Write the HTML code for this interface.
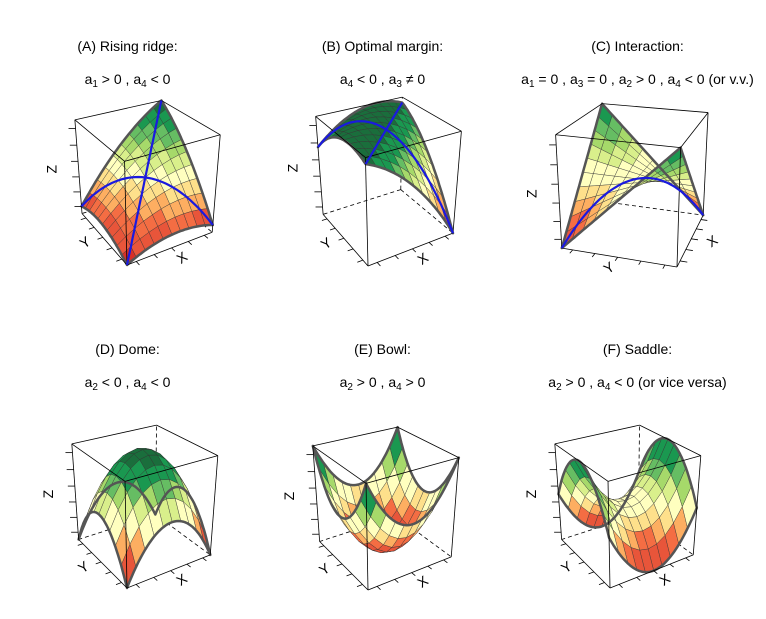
<!DOCTYPE html>
<html><head><meta charset="utf-8"><style>
html,body{margin:0;padding:0;background:#fff;width:766px;height:619px;overflow:hidden;font-family:"Liberation Sans",sans-serif;}
.t{position:absolute;width:255px;text-align:center;font-size:14px;color:#000;white-space:nowrap;}
sub{font-size:10px;vertical-align:-3px;line-height:0;}
svg{position:absolute;left:0;top:0;}
</style></head><body>
<div class="t" style="left:0;top:38px">(A) Rising ridge:</div>
<div class="t" style="left:0;top:71px">a<sub>1</sub> &gt; 0 , a<sub>4</sub> &lt; 0</div>
<div class="t" style="left:255px;top:38px">(B) Optimal margin:</div>
<div class="t" style="left:255px;top:71px">a<sub>4</sub> &lt; 0 , a<sub>3</sub> ≠ 0</div>
<div class="t" style="left:510px;top:38px">(C) Interaction:</div>
<div class="t" style="left:510px;top:71px">a<sub>1</sub> = 0 , a<sub>3</sub> = 0 , a<sub>2</sub> &gt; 0 , a<sub>4</sub> &lt; 0 (or v.v.)</div>
<div class="t" style="left:0;top:341px">(D) Dome:</div>
<div class="t" style="left:0;top:374px">a<sub>2</sub> &lt; 0 , a<sub>4</sub> &lt; 0</div>
<div class="t" style="left:255px;top:341px">(E) Bowl:</div>
<div class="t" style="left:255px;top:374px">a<sub>2</sub> &gt; 0 , a<sub>4</sub> &gt; 0</div>
<div class="t" style="left:510px;top:341px">(F) Saddle:</div>
<div class="t" style="left:510px;top:374px">a<sub>2</sub> &gt; 0 , a<sub>4</sub> &lt; 0 (or vice versa)</div>
<svg id="chart" width="766" height="619"></svg>
<script>
// Surface coefficients (z = a1*u + a2*u^2 + a3*v + a4*v^2 + a5*u*v, u=(x+y)/2, v=(x-y)/2)
const panels=['A','B','C','D','E','F'];
const a1=[1.2,0,0,0,0,0];
const a2=[0,0,1,-1,1,0];
const a3=[0,-0.6,0,0,0,0];
const a4=[-1,-1,-1,-1,1,0];
const a5=[0,0,0,0,0,4];
const showLOC=[1,1,0,0,0,0];
const showLOIC=[1,1,1,0,0,0];
const palette=['#d73027','#e8553a','#f46d43','#fdae61','#fee08b','#ffffbf','#d9ef8b','#a6d96a','#66bd63','#1a9850','#1a6e3c'];
const views=[
 {fx:127,fy:265,az:31,el:30,S:50,h:1.1},
 {fx:368,fy:266,az:31,el:30,S:50,h:1.15},
 {fx:677,fy:267,az:72,el:22,S:58,h:1.0},
 {fx:127,fy:588,az:33,el:28,S:50,h:1.1},
 {fx:368,fy:590,az:33,el:28,S:50,h:1.1},
 {fx:610,fy:588,az:33,el:28,S:50,h:1.1}
];
const N=10, D=10;
const svg=document.getElementById('chart');
const NS='http://www.w3.org/2000/svg';
function mk(tag,attrs){const e=document.createElementNS(NS,tag);for(const k in attrs)e.setAttribute(k,attrs[k]);return e;}
panels.forEach((p,i)=>{
  const V=views[i];
  const g=mk('g',{});
  
  
  svg.appendChild(g);
  const az=V.az*Math.PI/180, el=V.el*Math.PI/180;
  function raw(x,y,z){const c=Math.cos(az),s=Math.sin(az);const hh=x*c-y*s,dep=x*s+y*c;
    const up=z*Math.cos(el)+dep*Math.sin(el);const d2=dep*Math.cos(el)-z*Math.sin(el);const f=D/(D+d2);
    return [hh*f*V.S,-up*f*V.S,d2];}
  const o=raw(-1,-1,-V.h);
  function P(x,y,z){const r=raw(x,y,z);return [V.fx+r[0]-o[0],V.fy+r[1]-o[1],r[2]];}
  function fz(x,y){const u=(x+y)/2,v=(x-y)/2;return a1[i]*u+a2[i]*u*u+a3[i]*v+a4[i]*v*v+a5[i]*u*v;}
  let mn=1e9,mx=-1e9;
  for(let a=0;a<=40;a++)for(let b=0;b<=40;b++){const z=fz(-1+a/20,-1+b/20);mn=Math.min(mn,z);mx=Math.max(mx,z);}
  const nz=z=>(z-mn)/(mx-mn||1);
  const Z=(x,y)=>-V.h+2*V.h*nz(fz(x,y));
  const bb=[1,1,-V.h];
  [[1,-1,-V.h],[-1,1,-V.h],[1,1,V.h]].forEach(q=>{
    const A=P(...bb),B=P(...q);
    const l=mk('line',{x1:A[0],y1:A[1],x2:B[0],y2:B[1],stroke:'#000','stroke-width':0.8,'stroke-dasharray':'4,3'});
    
    
    g.appendChild(l);
  });
  const facets=[];
  for(let a=0;a<N;a++)for(let b=0;b<N;b++){
    const x0=-1+2*a/N,x1=-1+2*(a+1)/N,y0=-1+2*b/N,y1=-1+2*(b+1)/N;
    const pts=[[x0,y0],[x1,y0],[x1,y1],[x0,y1]].map(q=>P(q[0],q[1],Z(q[0],q[1])));
    const m=(nz(fz(x0,y0))+nz(fz(x1,y0))+nz(fz(x1,y1))+nz(fz(x0,y1)))/4;
    const dep=(pts[0][2]+pts[1][2]+pts[2][2]+pts[3][2])/4;
    facets.push({pts,m,dep});
  }
  facets.sort((A,B)=>B.dep-A.dep);
  facets.forEach(f=>{
    const ci=Math.min(palette.length-1,Math.floor(f.m*palette.length));
    const pg=mk('polygon',{points:f.pts.map(q=>q[0].toFixed(1)+','+q[1].toFixed(1)).join(' '),fill:palette[ci],stroke:'#333','stroke-width':0.5,'stroke-opacity':0.8});
    
    
    g.appendChild(pg);
  });
  const ol=[];
  for(let k=0;k<=40;k++)ol.push(P(-1+k/20,-1,Z(-1+k/20,-1)));
  for(let k=0;k<=40;k++)ol.push(P(1,-1+k/20,Z(1,-1+k/20)));
  for(let k=0;k<=40;k++)ol.push(P(1-k/20,1,Z(1-k/20,1)));
  for(let k=0;k<=40;k++)ol.push(P(-1,1-k/20,Z(-1,1-k/20)));
  const op=mk('polygon',{points:ol.map(q=>q[0].toFixed(1)+','+q[1].toFixed(1)).join(' '),fill:'none',stroke:'#555','stroke-width':2.5,'stroke-linejoin':'round'});
  
  
  g.appendChild(op);
  const hv=V.h;
  const edges=[
   [[-1,-1,-hv],[1,-1,-hv]],[[-1,-1,-hv],[-1,1,-hv]],[[-1,-1,-hv],[-1,-1,hv]],
   [[1,-1,-hv],[1,-1,hv]],[[-1,1,-hv],[-1,1,hv]],
   [[-1,-1,hv],[1,-1,hv]],[[-1,-1,hv],[-1,1,hv]],[[1,1,hv],[1,-1,hv]],[[1,1,hv],[-1,1,hv]]];
  edges.forEach(e=>{const A=P(...e[0]),B=P(...e[1]);
    const l=mk('line',{x1:A[0],y1:A[1],x2:B[0],y2:B[1],stroke:'#000','stroke-width':0.8});
    
    
    g.appendChild(l);});
  function blue(dir){const pts=[];for(let k=0;k<=40;k++){const t=-1+k/20;const x=t,y=dir*t;pts.push(P(x,y,Z(x,y)));}
    const pl=mk('polyline',{points:pts.map(q=>q[0].toFixed(1)+','+q[1].toFixed(1)).join(' '),fill:'none',stroke:'#1a1adf','stroke-width':2.2});
    
    
    g.appendChild(pl);}
  if(showLOC[i])blue(1);
  if(showLOIC[i])blue(-1);
  for(let k=0;k<5;k++){
    const t=-0.8+k*0.4;
    let A=P(-1,t,-hv),B=P(-1.12,t,-hv);
    let l=mk('line',{x1:A[0],y1:A[1],x2:B[0],y2:B[1],stroke:'#000','stroke-width':0.8});
    
    
    g.appendChild(l);
    A=P(t,-1,-hv);B=P(t,-1.12,-hv);
    l=mk('line',{x1:A[0],y1:A[1],x2:B[0],y2:B[1],stroke:'#000','stroke-width':0.8});
    
    
    g.appendChild(l);
  }
  for(let k=0;k<6;k++){
    const z=-hv+2*hv*(k+0.5)/6;const A=P(-1,1,z);
    const l=mk('line',{x1:A[0],y1:A[1],x2:A[0]-7,y2:A[1],stroke:'#000','stroke-width':0.8});
    
    
    g.appendChild(l);
  }
  function lab(txt,pt,rot,name){const tx=mk('text',{x:pt[0],y:pt[1],'font-size':14,'font-family':'Liberation Sans, sans-serif','text-anchor':'middle','dominant-baseline':'middle',transform:'rotate('+rot+' '+pt[0]+' '+pt[1]+')'});
    tx.textContent=txt;
    
    
    g.appendChild(tx);}
  const zp=P(-1,1,0);lab('Z',[zp[0]-26,zp[1]],-90,'z-axis-title');
  const yp=P(-1.38,0,-hv);lab('Y',yp,-35,'y-axis-title');
  const xp=P(0,-1.38,-hv);lab('X',xp,-35,'x-axis-title');
});
</script>
</body></html>
